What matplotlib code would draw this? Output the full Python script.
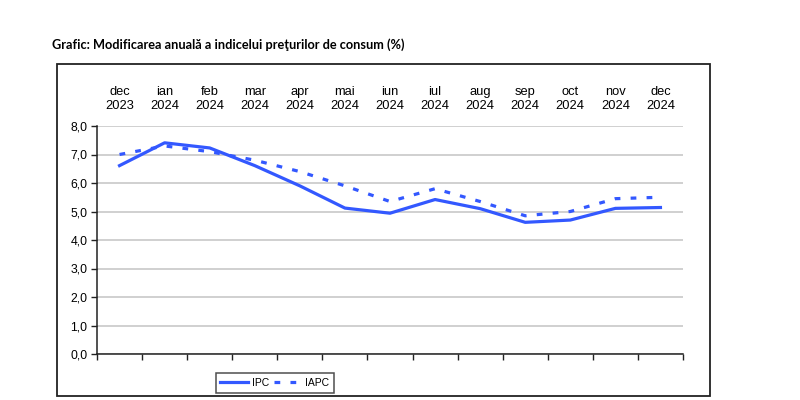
import numpy as np
import matplotlib.pyplot as plt
from matplotlib.patches import Rectangle

luni = ['dec\n2023', 'ian\n2024', 'feb\n2024', 'mar\n2024', 'apr\n2024', 'mai\n2024', 'iun\n2024',
        'iul\n2024', 'aug\n2024', 'sep\n2024', 'oct\n2024', 'nov\n2024', 'dec\n2024']
ipc = [6.61, 7.41, 7.23, 6.61, 5.90, 5.12, 4.94, 5.42, 5.10, 4.62, 4.70, 5.11, 5.14]
iapc = [7.0, 7.3, 7.1, 6.8, 6.4, 5.9, 5.35, 5.8, 5.35, 4.85, 5.0, 5.45, 5.5]
y_ticks = [0, 1, 2, 3, 4, 5, 6, 7, 8]

albastru = '#3358ff'

fig = plt.figure(figsize=(8, 4), dpi=100)
fig.patch.set_facecolor('white')

# chenarul graficului
fig.add_artist(Rectangle((57/800, 4/400), 653/800, 332/400, transform=fig.transFigure,
                         fill=False, edgecolor='#222222', linewidth=1.3))

fig.text(52/800, 1 - 45/400, 'Grafic: Modificarea anuală a indicelui preţurilor de consum (%)',
         fontfamily='Lato', fontweight='bold', fontsize=9.2, va='center', ha='left')

ax = fig.add_axes([97/800, 46/400, 586/800, 228/400])
x = np.arange(len(luni))
ax.plot(x, ipc, color=albastru, linewidth=2.3, label='IPC')
ax.plot(x, iapc, color=albastru, linewidth=2.3, linestyle=(0, (1.8, 3.2)), label='IAPC')

ax.set_xlim(-0.5, len(luni) - 0.5)
ax.set_ylim(0, 8)
ax.set_yticks(y_ticks)
ax.set_yticklabels([f'{v:.1f}'.replace('.', ',') for v in y_ticks],
                   fontfamily='Liberation Sans', fontsize=8.8)
ax.set_xticks(np.arange(-0.5, len(luni), 1))
ax.set_xticklabels([])
ax.tick_params(axis='x', direction='out', length=4, width=1, color='#222222')
ax.tick_params(axis='y', direction='out', length=4, width=1, color='#222222', pad=3)
ax.grid(axis='y', color='#c8c8c8', linewidth=1.2)
ax.set_axisbelow(True)
for s in ['top', 'right']:
    ax.spines[s].set_visible(False)
for s in ['left', 'bottom']:
    ax.spines[s].set_color('#222222')
    ax.spines[s].set_linewidth(1.1)

for i, lab in enumerate(luni):
    ax.text(i, 8.48, lab, ha='center', va='bottom', fontfamily='Liberation Sans',
            fontsize=9.3, linespacing=1.3, transform=ax.transData, clip_on=False)

leg = fig.legend(loc='center', bbox_to_anchor=(275/800, 1 - 383/400), ncol=2,
                 frameon=True, fancybox=False, edgecolor='#222222', handlelength=2.6,
                 columnspacing=0.5, handletextpad=0.4, borderpad=0.45,
                 prop={'family': 'Liberation Sans', 'size': 7.5})
leg.get_frame().set_linewidth(1.1)

fig.savefig('out.png', dpi=100, facecolor='white')
